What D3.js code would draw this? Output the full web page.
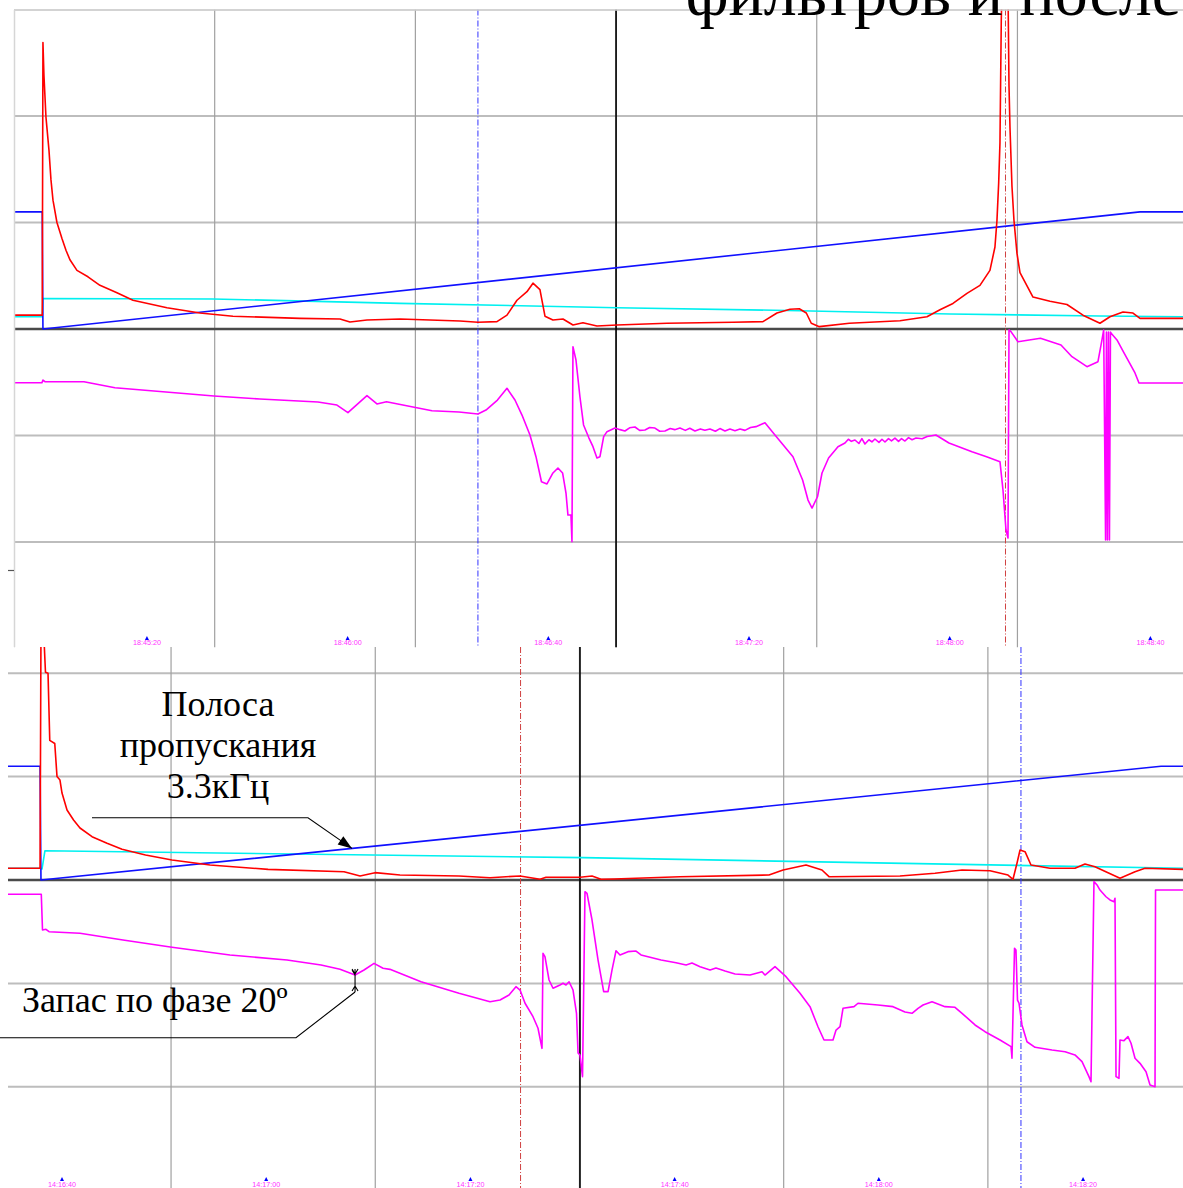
<!DOCTYPE html>
<html>
<head>
<meta charset="utf-8">
<script src="https://cdn.jsdelivr.net/npm/d3@7"></script>
<style>
  body { margin: 0; background: #fff; }
  svg { display: block; }
</style>
</head>
<body>
<svg id="chart" width="1183" height="1188"></svg>
<script>
// ---------- Upper recording (time: seconds after 18:45:00, level: grid divisions) ----------
const upperTickTimes  = [20, 60, 100, 140, 180, 220];
const upperTickLabels = ["18:45:20", "18:46:00", "18:46:40", "18:47:20", "18:48:00", "18:48:40"];
const upperGridTimes  = [-6.5, 33.5, 73.5, 113.5, 153.5, 193.5];

const upperAmplitude = [
  [-6.5,0.13],[-0.87,0.13],[-0.73,2.69],[-0.53,2.38],[-0.13,1.99],[0.47,1.68],[0.87,1.40],[1.27,1.21],
  [2.06,1.00],[3.06,0.85],[3.86,0.74],[4.65,0.65],[6.05,0.55],[8.24,0.49],[10.63,0.41],[14.02,0.34],
  [17.21,0.27],[23.99,0.20],[30.56,0.15],[37.14,0.12],[50.50,0.10],[58.47,0.094],[60.46,0.066],
  [63.85,0.085],[70.43,0.094],[82.39,0.075],[85.97,0.063],[89.76,0.069],[91.76,0.13],[93.75,0.27],
  [95.74,0.35],[96.94,0.43],[98.33,0.37],[99.33,0.12],[100.92,0.085],[102.92,0.094],[104.91,0.038],
  [106.90,0.059],[109.69,0.028],[113.68,0.038],[123.65,0.054],[136.80,0.063],[142.78,0.069],
  [145.57,0.15],[148.16,0.185],[150.02,0.19],[151.42,0.15],[152.41,0.054],[154.01,0.022],[159.99,0.054],
  [170.09,0.078],[175.47,0.115],[178.06,0.18],[180.65,0.24],[183.44,0.335],[186.03,0.41],[188.02,0.55],
  [189.02,0.77],[189.42,1.02],[189.76,1.37],[190.02,1.75],[190.28,2.90],[190.42,3.2],[191.62,3.2],
  [191.82,2.28],[192.01,1.90],[192.41,1.34],[192.81,1.02],[193.41,0.71],[194.01,0.53],[196.60,0.30],
  [199.99,0.26],[203.37,0.23],[206.56,0.13],[209.95,0.054],[211.94,0.115],[214.54,0.16],[216.53,0.15],
  [217.93,0.10],[226.5,0.10]
];
const upperSweep = [[-6.5,1.10],[-0.87,1.10],[-0.73,0],[217.93,1.10],[226.5,1.10]];
const upperReference = [
  [-6.5,0.115],[-0.87,0.115],[-0.73,0.286],[33.16,0.282],[70.43,0.241],[113.68,0.20],
  [150.02,0.172],[180.05,0.141],[209.95,0.122],[226.5,0.115]
];
const upperPhase = [
  [-6.5,-0.504],[-0.93,-0.504],[-0.73,-0.479],[-0.33,-0.495],[7.44,-0.495],[13.62,-0.551],[33.35,-0.629],
  [42.52,-0.657],[54.08,-0.685],[57.87,-0.714],[60.06,-0.786],[63.85,-0.626],[65.84,-0.704],[67.74,-0.683],
  [73.02,-0.732],[76.81,-0.767],[82.19,-0.779],[85.97,-0.798],[87.57,-0.761],[89.86,-0.667],[91.76,-0.557],
  [93.35,-0.667],[94.75,-0.808],[96.34,-0.995],[97.54,-1.199],[98.63,-1.434],[99.73,-1.455],[100.92,-1.352],
  [101.92,-1.305],[102.84,-1.352],[103.52,-1.540],[103.91,-1.747],[104.51,-1.747],[104.71,-1.997],
  [104.91,-0.166],[105.51,-0.291],[106.30,-0.636],[107.02,-0.901],[108.10,-1.024],[108.90,-1.105],
  [109.69,-1.211],[110.29,-1.199],[111.03,-1.011],[111.69,-0.964],[113.28,-0.930],[114.3,-0.945],
  [115.27,-0.958],[116.2,-0.928],[117.27,-0.920],[118.2,-0.952],[119.26,-0.948],[120.2,-0.925],
  [121.25,-0.930],[122.2,-0.960],[123.25,-0.958],[124.3,-0.935],[125.2,-0.945],[126.24,-0.930],
  [127.3,-0.952],[128.2,-0.932],[129.23,-0.958],[130.3,-0.938],[131.2,-0.950],[132.22,-0.939],
  [133.3,-0.960],[134.2,-0.935],[135.21,-0.958],[136.2,-0.940],[137.2,-0.955],[138.20,-0.939],
  [139.2,-0.952],[140.3,-0.925],[141.39,-0.917],[143.18,-0.880],[145.17,-0.995],
  [148.76,-1.199],[150.68,-1.418],[151.76,-1.606],[152.56,-1.681],[153.65,-1.575],[154.55,-1.352],
  [155.86,-1.211],[157.73,-1.105],[159.13,-1.070],[159.8,-1.035],[160.4,-1.055],[161.12,-1.042],
  [161.9,-1.075],[162.5,-1.030],[163.11,-1.080],[163.9,-1.040],[164.5,-1.060],[165.10,-1.033],
  [165.9,-1.065],[166.5,-1.035],[167.10,-1.061],[167.8,-1.030],[168.4,-1.050],[169.09,-1.024],
  [169.8,-1.055],[170.4,-1.030],[171.08,-1.052],[171.8,-1.020],[172.5,-1.040],[173.28,-1.024],
  [174.5,-1.030],[175.5,-1.010],[177.26,-0.995],[179.85,-1.070],
  [184.44,-1.152],[187.35,-1.199],[190.02,-1.246],[190.62,-1.512],[191.22,-1.887],[191.62,-1.963],
  [191.82,-0.009],[192.21,-0.025],[193.61,-0.119],[198.09,-0.087],[202.18,-0.150],[204.37,-0.260],
  [207.36,-0.354],[209.55,-0.307],[210.35,-0.103],[210.69,-0.009],[211.07,-1.981],[211.24,-0.028],
  [211.44,-1.981],[211.64,-0.028],[211.84,-1.981],[212.04,-0.028],[212.14,-0.038],[213.34,-0.103],
  [214.74,-0.225],[216.93,-0.413],[217.73,-0.507],[226.5,-0.507]
];
const upperMarkers = [
  { t: 85.97,  color: "#3333ff", dash: "6,2,1,2" },
  { t: 113.5,  color: "#000000", dash: null },
  { t: 191.12, color: "#d04040", dash: "6,2,1,2" }
];

// ---------- Lower recording (time: seconds after 14:16:00, level: grid divisions) ----------
const lowerTickTimes  = [40, 60, 80, 100, 120, 140];
const lowerTickLabels = ["14:16:40", "14:17:00", "14:17:20", "14:17:40", "14:18:00", "14:18:20"];
const lowerGridTimes  = [50.68, 70.68, 90.68, 110.68, 130.68];

const lowerAmplitude = [
  [34.71,0.113],[37.85,0.113],[37.94,2.42],[38.24,2.32],[38.38,2.01],[38.63,2.00],[38.80,1.35],[39.29,1.32],
  [39.51,1.00],[39.80,0.967],[40.00,0.841],[40.49,0.677],[41.13,0.580],[41.76,0.503],[42.94,0.419],
  [44.41,0.355],[45.88,0.297],[48.18,0.242],[50.77,0.193],[54.50,0.145],[60.18,0.103],[67.62,0.080],
  [69.19,0.039],[70.66,0.071],[73.10,0.048],[78.88,0.039],[81.92,0.022],[84.86,0.039],[86.82,0.007],
  [87.40,0.026],[90.73,0.026],[91.91,0.039],[92.79,0.007],[94.06,0.010],[100.53,0.032],[109.24,0.048],
  [110.62,0.097],[112.87,0.145],[114.43,0.097],[115.12,0.032],[122.07,0.039],[125.50,0.065],[128.15,0.097],
  [130.89,0.090],[132.65,0.048],[133.14,0.007],[133.53,0.162],[133.83,0.290],[134.32,0.274],[134.90,0.145],
  [136.76,0.113],[139.21,0.113],[140.19,0.155],[141.17,0.129],[143.62,0.016],[145.09,0.080],[146.07,0.113],
  [149.79,0.103]
];
const lowerSweep = [[34.71,1.10],[37.85,1.10],[37.94,0],[147.64,1.10],[149.79,1.10]];
const lowerReference = [[34.71,0.113],[37.85,0.113],[38.04,0.106],[38.33,0.283],[91.03,0.216],[149.79,0.113]];
const lowerPhase = [
  [34.71,-0.138],[37.97,-0.138],[38.09,-0.484],[38.43,-0.477],[38.73,-0.500],[41.76,-0.515],[45.97,-0.580],
  [50.77,-0.651],[56.45,-0.725],[62.04,-0.774],[65.37,-0.822],[67.23,-0.864],[68.70,-0.919],[69.58,-0.870],
  [70.56,-0.806],[71.44,-0.854],[72.12,-0.864],[75.16,-0.984],[78.88,-1.096],[81.92,-1.177],[82.90,-1.161],
  [83.78,-1.112],[84.46,-1.032],[84.86,-1.064],[85.35,-1.192],[86.13,-1.322],[86.62,-1.434],[87.01,-1.628],
  [87.11,-0.709],[87.30,-0.742],[87.70,-0.967],[88.09,-1.047],[88.77,-1.015],[89.07,-0.999],[89.36,-1.015],
  [89.66,-0.984],[90.05,-1.064],[90.39,-1.289],[90.54,-1.673],[90.73,-1.693],[90.98,-1.902],[91.22,-0.113],
  [91.42,-0.129],[91.91,-0.387],[92.50,-0.774],[92.79,-0.935],[93.05,-1.080],[93.48,-1.080],[93.87,-0.870],
  [94.26,-0.684],[94.65,-0.725],[95.43,-0.693],[96.22,-0.687],[96.71,-0.725],[97.59,-0.748],[98.67,-0.774],
  [100.14,-0.800],[101.12,-0.822],[101.70,-0.803],[102.49,-0.838],[103.47,-0.870],[104.05,-0.851],
  [104.94,-0.880],[105.92,-0.909],[107.38,-0.919],[108.56,-0.887],[108.85,-0.919],[109.83,-0.838],
  [110.91,-0.935],[112.28,-1.096],[113.26,-1.225],[114.04,-1.419],[114.63,-1.547],[115.51,-1.547],
  [115.81,-1.451],[116.20,-1.419],[116.49,-1.241],[117.57,-1.225],[117.96,-1.192],[119.92,-1.209],
  [121.39,-1.225],[122.56,-1.277],[123.25,-1.289],[123.84,-1.241],[124.33,-1.209],[125.21,-1.177],
  [126.48,-1.225],[127.46,-1.231],[128.15,-1.289],[129.42,-1.402],[130.40,-1.467],[131.87,-1.547],
  [132.95,-1.612],[133.04,-1.724],[133.29,-0.661],[133.43,-0.677],[133.58,-1.161],[133.73,-1.192],
  [134.02,-1.402],[134.51,-1.564],[135.30,-1.618],[136.96,-1.644],[138.24,-1.661],[139.21,-1.692],
  [139.90,-1.757],[140.58,-1.902],[140.78,-1.951],[141.07,-0.016],[141.37,-0.048],[141.66,-0.097],
  [142.25,-0.162],[142.64,-0.193],[143.03,-0.210],[143.13,-0.177],[143.23,-1.902],[143.52,-1.918],
  [143.62,-1.547],[144.01,-1.554],[144.40,-1.515],[144.70,-1.579],[145.09,-1.724],[145.58,-1.773],
  [146.17,-1.854],[146.56,-1.983],[147.05,-1.999],[147.10,-0.097],[149.79,-0.097]
];
const lowerMarkers = [
  { t: 84.91,  color: "#d04040", dash: "6,2,1,2" },
  { t: 90.73,  color: "#000000", dash: null },
  { t: 133.92, color: "#3333ff", dash: "6,2,1,2" }
];

// annotation anchors (lower recording)
const bandwidthLines = ["Полоса", "пропускания", "3.3кГц"];
const bandwidthArrowTime = 68.4;
const marginLabel = "Запас по фазе 20º";
const marginTime = 68.7;

// ---------- drawing ----------
const svg = d3.select("#chart");
const COLORS = { amp: "#ff0000", sweep: "#1010ff", ref: "#00f0f0", phase: "#ff00ff" };

function drawPanel(cfg) {
  const x = d3.scaleLinear().domain(cfg.tDomain).range(cfg.xRange);
  const y = d3.scaleLinear().domain([-3, 3]).range(cfg.yRange);
  const g = svg.append("g");
  const clipId = "clip-" + cfg.id;
  svg.append("clipPath").attr("id", clipId).append("rect")
    .attr("x", cfg.clip[0]).attr("y", cfg.clip[1])
    .attr("width", cfg.clip[2]).attr("height", cfg.clip[3]);
  const body = g.append("g").attr("clip-path", `url(#${clipId})`);

  // horizontal divisions
  body.selectAll(".hgrid").data([-2, -1, 1, 2, 3]).join("line")
    .attr("x1", cfg.xRange[0]).attr("x2", cfg.xRange[1])
    .attr("y1", d => y(d)).attr("y2", d => y(d))
    .attr("stroke", "#bdbdbd").attr("stroke-width", 2);

  // vertical divisions
  body.selectAll(".vgrid").data(cfg.gridTimes).join("line")
    .attr("x1", d => x(d)).attr("x2", d => x(d))
    .attr("y1", cfg.clip[1]).attr("y2", cfg.clip[1] + cfg.clip[3])
    .attr("stroke", "#a0a0a0").attr("stroke-width", 1.2);

  // zero line
  body.append("line")
    .attr("x1", cfg.xRange[0]).attr("x2", cfg.xRange[1])
    .attr("y1", y(0)).attr("y2", y(0))
    .attr("stroke", "#4a4a4a").attr("stroke-width", 2.5);

  // cursors
  body.selectAll(".cursor").data(cfg.markers).join("line")
    .attr("x1", d => x(d.t)).attr("x2", d => x(d.t))
    .attr("y1", cfg.clip[1]).attr("y2", cfg.clip[1] + cfg.clip[3])
    .attr("stroke", d => d.color)
    .attr("stroke-width", d => d.dash ? 1 : 1.6)
    .attr("stroke-dasharray", d => d.dash);

  const line = d3.line().x(d => x(d[0])).y(d => y(d[1]));
  const series = [
    [cfg.reference, COLORS.ref],
    [cfg.sweep, COLORS.sweep],
    [cfg.amplitude, COLORS.amp],
    [cfg.phase, COLORS.phase]
  ];
  body.selectAll(".trace").data(series).join("path")
    .attr("d", d => line(d[0]))
    .attr("fill", "none")
    .attr("stroke", d => d[1])
    .attr("stroke-width", 1.6)
    .attr("stroke-linejoin", "round");

  // time labels with small pointers
  const tg = g.selectAll(".tick").data(cfg.tickTimes).join("g")
    .attr("transform", d => `translate(${x(d)},0)`);
  tg.append("path")
    .attr("d", `M-2,${cfg.pointerY} L2,${cfg.pointerY} L0,${cfg.pointerY - 4} Z`)
    .attr("fill", "#0000ff");
  tg.append("text")
    .attr("y", cfg.labelY)
    .attr("text-anchor", "middle")
    .attr("font-family", "Liberation Sans, Arial, sans-serif")
    .attr("font-size", 8)
    .attr("textLength", 28)
    .attr("lengthAdjust", "spacingAndGlyphs")
    .attr("fill", "#ff33ff")
    .text((d, i) => cfg.tickLabels[i]);

  return { x, y, g };
}

const upper = drawPanel({
  id: "upper",
  tDomain: [-6.5, 226.5], xRange: [14, 1183], yRange: [648.5, 9.5],
  clip: [14, 9.5, 1169, 638],
  gridTimes: upperGridTimes, markers: upperMarkers,
  amplitude: upperAmplitude, sweep: upperSweep, reference: upperReference, phase: upperPhase,
  tickTimes: upperTickTimes, tickLabels: upperTickLabels, labelY: 645, pointerY: 640
});
// panel frame (top and left edges) and side marker
svg.append("line").attr("x1", 14).attr("x2", 1183).attr("y1", 10).attr("y2", 10)
  .attr("stroke", "#cfcfcf").attr("stroke-width", 1.5);
svg.append("line").attr("x1", 14.5).attr("x2", 14.5).attr("y1", 10).attr("y2", 647)
  .attr("stroke", "#d6d6d6").attr("stroke-width", 1.5);
svg.append("line").attr("x1", 8).attr("x2", 14).attr("y1", 570.5).attr("y2", 570.5)
  .attr("stroke", "#555").attr("stroke-width", 1.2);

const lower = drawPanel({
  id: "lower",
  tDomain: [34.71, 149.79], xRange: [8, 1183], yRange: [1190.2, 569.8],
  clip: [8, 647, 1175, 541],
  gridTimes: lowerGridTimes, markers: lowerMarkers,
  amplitude: lowerAmplitude, sweep: lowerSweep, reference: lowerReference, phase: lowerPhase,
  tickTimes: lowerTickTimes, tickLabels: lowerTickLabels, labelY: 1187, pointerY: 1181
});

// ---------- annotations ----------
const serif = "Liberation Serif, Times New Roman, serif";
const ann = svg.append("g");

// bandwidth callout pointing at the sweep trace
ann.append("text")
  .attr("x", 218).attr("y", 716)
  .attr("text-anchor", "middle")
  .attr("font-family", serif).attr("font-size", 36)
  .selectAll("tspan").data(bandwidthLines).join("tspan")
  .attr("x", 218).attr("dy", (d, i) => i === 0 ? 0 : 41)
  .text(d => d);

const sweepAt = d3.scaleLinear().domain(lowerSweep.slice(2, 4).map(d => d[0]))
  .range(lowerSweep.slice(2, 4).map(d => d[1]));
const tipX = lower.x(bandwidthArrowTime), tipY = lower.y(sweepAt(bandwidthArrowTime));
const elbow = [tipX - 44, tipY - 30.6];
ann.append("path")
  .attr("d", `M92,${elbow[1]} L${elbow[0]},${elbow[1]} L${tipX},${tipY}`)
  .attr("fill", "none").attr("stroke", "#000").attr("stroke-width", 1.1);
{
  const ang = Math.atan2(tipY - elbow[1], tipX - elbow[0]);
  const L = 14, W = 5;
  const bx = tipX - L * Math.cos(ang), by = tipY - L * Math.sin(ang);
  const px = -Math.sin(ang) * W, py = Math.cos(ang) * W;
  ann.append("path")
    .attr("d", `M${tipX},${tipY} L${bx + px},${by + py} L${bx - px},${by - py} Z`)
    .attr("fill", "#000");
}

// phase-margin callout
ann.append("text")
  .attr("x", 22).attr("y", 1012)
  .attr("font-family", serif).attr("font-size", 36)
  .text(marginLabel);
const mX = lower.x(marginTime);
const mTop = lower.y(-0.919) - 6, mBot = mTop + 23;
ann.append("path")
  .attr("d", `M0,1037.7 L296,1037.7 L${mX},${mBot}`)
  .attr("fill", "none").attr("stroke", "#000").attr("stroke-width", 1.1);
ann.append("path")
  .attr("d", `M${mX},${mTop} L${mX},${mBot}
              M${mX - 3},${mTop} L${mX},${mTop + 5} L${mX + 3},${mTop}
              M${mX - 3},${mTop + 1} L${mX},${mTop + 6}
              M${mX - 3},${mBot - 1} L${mX},${mBot - 6} L${mX + 3},${mBot - 1}`)
  .attr("fill", "none").attr("stroke", "#000").attr("stroke-width", 1.1);

// slide heading, cut by the top edge
svg.append("text")
  .attr("x", 1181).attr("y", 15)
  .attr("text-anchor", "end")
  .attr("font-family", serif).attr("font-size", 66)
  .text("фильтров и после");
</script>
</body>
</html>
